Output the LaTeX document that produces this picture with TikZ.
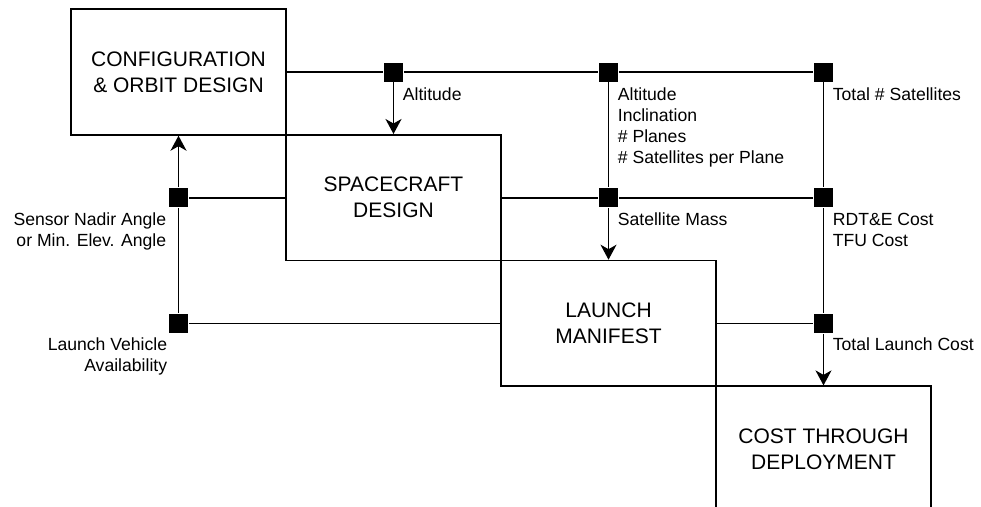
\documentclass[tikz,border=0pt]{standalone}
\usepackage{fontspec}
\setmainfont{Liberation Sans}
\usetikzlibrary{arrows.meta}
\newcommand{\blockfont}{\fontsize{21}{26}\selectfont}
\newcommand{\lblfont}{\fontsize{17.6}{21}\selectfont}
\tikzset{
  block/.style={draw, minimum width=215pt, minimum height=125.7pt, align=center, font=\blockfont},
  junction/.style={fill=black, minimum size=19pt, inner sep=0pt},
  lbl/.style={inner sep=0pt, font=\lblfont},
  flow/.style={-{Stealth[length=15pt,width=16pt,inset=4.5pt]}}
}
\begin{document}
\begin{tikzpicture}[x=1pt,y=-1pt,line width=1.7pt]
  \useasboundingbox (0,0) rectangle (981,506);
  % blocks on the diagonal
  \node[block] (config) at (178.5,72) {CONFIGURATION\\\& ORBIT DESIGN};
  \node[block] (craft) at (393.5,197.7) {SPACECRAFT\\DESIGN};
  \node[block] (manifest) at (608.5,323.4) {LAUNCH\\MANIFEST};
  \node[block] (cost) at (823.5,449.1) {COST THROUGH\\DEPLOYMENT};

  % junctions
  \node[junction] (altA) at (393.5,72) {};
  \node[junction] (orbB) at (608.5,72) {};
  \node[junction] (totC) at (823.5,72) {};
  \node[junction] (sensD) at (178.5,197.7) {};
  \node[junction] (massE) at (608.5,197.7) {};
  \node[junction] (rdteF) at (823.5,197.7) {};
  \node[junction] (lvG) at (178.5,323.4) {};
  \node[junction] (launchH) at (823.5,323.4) {};

  % connectors
  \draw (config) -- (altA) -- (orbB) -- (totC);
  \draw[flow] (altA) -- (craft.north);
  \draw (orbB) -- (massE);
  \draw (totC) -- (rdteF) -- (launchH);
  \draw[flow] (launchH) -- (cost.north);
  \draw (craft) -- (sensD);
  \draw[flow] (sensD) -- (config.south);
  \draw (lvG) -- (sensD);
  \draw (craft) -- (massE) -- (rdteF);
  \draw[flow] (massE) -- (manifest.north);
  \draw (manifest) -- (lvG);
  \draw (manifest) -- (launchH);

  % labels
  \node[lbl, anchor=north west, align=left] (lblA) at (402,87) {Altitude};
  \node[lbl, anchor=north west, align=left] (lblB) at (617,87) {Altitude\\Inclination\\\# Planes\\\# Satellites per Plane};
  \node[lbl, anchor=north west, align=left] (lblC) at (832,87) {Total \# Satellites};
  \node[lbl, anchor=north east, align=right] (lblD) at (167,212) {Sensor Nadir Angle\\or Min. Elev. Angle};
  \node[lbl, anchor=north west, align=left] (lblE) at (617,212) {Satellite Mass};
  \node[lbl, anchor=north west, align=left] (lblF) at (832,212) {RDT\&E Cost\\TFU Cost};
  \node[lbl, anchor=north east, align=right] (lblG) at (168,337) {Launch Vehicle\\Availability};
  \node[lbl, anchor=north west, align=left] (lblH) at (832,337) {Total Launch Cost};
\end{tikzpicture}
\end{document}
